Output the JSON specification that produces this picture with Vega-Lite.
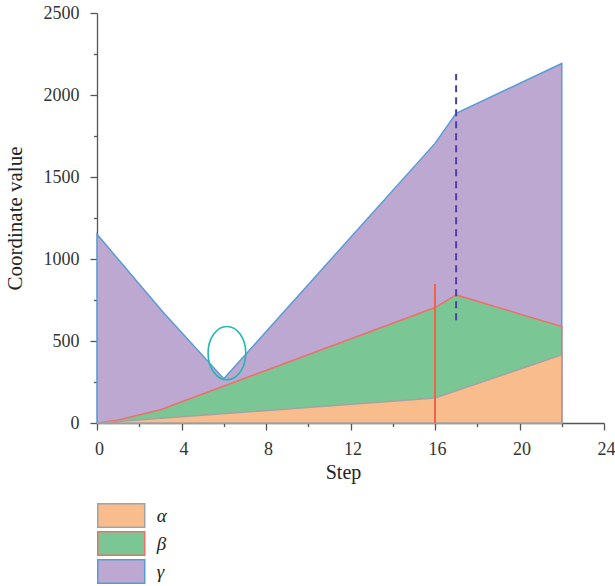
{
  "$schema": "https://vega.github.io/schema/vega-lite/v6.json",
  "width": 507,
  "height": 410,
  "autosize": {"type": "none"},
  "padding": {"left": 97, "top": 13, "right": 11, "bottom": 163},
  "config": {
    "view": {"stroke": null},
    "font": "Liberation Serif",
    "axis": {
      "grid": false,
      "domainColor": "#555555",
      "domainWidth": 1.3,
      "tickColor": "#555555",
      "tickWidth": 1.3,
      "labelFont": "Liberation Serif",
      "labelFontSize": 18,
      "labelColor": "#333333",
      "titleFont": "Liberation Serif",
      "titleFontWeight": "normal",
      "titleColor": "#222222"
    },
    "legend": {
      "orient": "none",
      "legendX": 11.75,
      "legendY": 490,
      "padding": 0,
      "symbolType": "M-2,-1H2V1H-2Z",
      "symbolSize": 552,
      "symbolStrokeWidth": 1.5,
      "symbolOpacity": 1,
      "labelOffset": 23,
      "labelFont": "Liberation Serif",
      "labelFontStyle": "italic",
      "labelFontSize": 19,
      "labelColor": "#222222",
      "rowPadding": -6
    }
  },
  "datasets": {
    "areas": [
      {"series": "γ", "step": 0, "value": 1151},
      {"series": "γ", "step": 3.1, "value": 680},
      {"series": "γ", "step": 6, "value": 270},
      {"series": "γ", "step": 16, "value": 1705},
      {"series": "γ", "step": 17, "value": 1888},
      {"series": "γ", "step": 22, "value": 2192},
      {"series": "β", "step": 0, "value": 0},
      {"series": "β", "step": 1, "value": 18},
      {"series": "β", "step": 3, "value": 81},
      {"series": "β", "step": 16, "value": 704},
      {"series": "β", "step": 17, "value": 781},
      {"series": "β", "step": 22, "value": 588},
      {"series": "α", "step": 0, "value": 0},
      {"series": "α", "step": 16, "value": 152},
      {"series": "α", "step": 22, "value": 416}
    ],
    "rules": [
      {"kind": "solid", "step": 16, "value": 0, "value2": 848},
      {"kind": "dashed", "step": 17, "value": 627, "value2": 2128}
    ],
    "marker": [
      {"step": 6.15, "value": 426}
    ]
  },
  "layer": [
    {
      "data": {"name": "areas"},
      "encoding": {
        "x": {
          "field": "step",
          "type": "quantitative",
          "scale": {"domain": [0, 24], "nice": false, "zero": false},
          "axis": {
            "title": "Step",
            "titleFontSize": 20,
            "titlePadding": 4,
            "titleX": 246,
            "values": [0, 2, 4, 6, 8, 10, 12, 14, 16, 18, 20, 22, 24],
            "labelExpr": "datum.value % 4 === 0 ? datum.label : ''",
            "tickSize": {"condition": {"test": "datum.value % 4 === 0", "value": 7}, "value": 3.5},
            "labelPadding": 10,
            "labelOffset": 2,
            "labelFlush": false,
            "labelOverlap": false
          }
        },
        "y": {
          "field": "value",
          "type": "quantitative",
          "stack": null,
          "scale": {"domain": [0, 2500], "nice": false},
          "axis": {
            "title": "Coordinate value",
            "titleFontSize": 21,
            "titlePadding": 18,
            "values": [0, 250, 500, 750, 1000, 1250, 1500, 1750, 2000, 2250, 2500],
            "format": "d",
            "labelExpr": "datum.value % 500 === 0 ? datum.label : ''",
            "tickSize": {"condition": {"test": "datum.value % 500 === 0", "value": 7}, "value": 3.5},
            "labelPadding": 11,
            "labelOverlap": false
          }
        },
        "fill": {
          "field": "series",
          "type": "nominal",
          "scale": {"domain": ["α", "β", "γ"], "range": ["#f9bc8d", "#7ac795", "#bda8d1"]},
          "legend": {"title": null}
        },
        "stroke": {
          "field": "series",
          "type": "nominal",
          "scale": {"domain": ["α", "β", "γ"], "range": ["#a3a3a3", "#ef7068", "#5b9bd5"]},
          "legend": {"title": null}
        }
      },
      "layer": [
        {
          "transform": [{"filter": "datum.series === 'γ'"}],
          "mark": {"type": "area", "strokeWidth": 1.5, "fillOpacity": 1, "opacity": 1}
        },
        {
          "transform": [{"filter": "datum.series === 'β'"}],
          "mark": {"type": "area", "strokeWidth": 1.5, "fillOpacity": 1, "opacity": 1}
        },
        {
          "transform": [{"filter": "datum.series === 'α'"}],
          "mark": {"type": "area", "strokeWidth": 1.5, "fillOpacity": 1, "opacity": 1}
        }
      ]
    },
    {
      "data": {"name": "rules"},
      "transform": [{"filter": "datum.kind === 'solid'"}],
      "mark": {"type": "rule", "color": "#ee6446", "strokeWidth": 2},
      "encoding": {
        "x": {"field": "step", "type": "quantitative"},
        "y": {"field": "value", "type": "quantitative"},
        "y2": {"field": "value2"}
      }
    },
    {
      "data": {"name": "rules"},
      "transform": [{"filter": "datum.kind === 'dashed'"}],
      "mark": {"type": "rule", "color": "#4e3fa6", "strokeWidth": 2, "strokeDash": [7, 5]},
      "encoding": {
        "x": {"field": "step", "type": "quantitative"},
        "y": {"field": "value", "type": "quantitative"},
        "y2": {"field": "value2"}
      }
    },
    {
      "data": {"name": "marker"},
      "mark": {
        "type": "point",
        "shape": "M0.707,0C0.707,0.552 0.39,1 0,1C-0.39,1 -0.707,0.552 -0.707,0C-0.707,-0.552 -0.39,-1 0,-1C0.39,-1 0.707,-0.552 0.707,0Z",
        "size": 2840,
        "filled": false,
        "stroke": "#22b8b0",
        "strokeWidth": 1.6,
        "opacity": 1
      },
      "encoding": {
        "x": {"field": "step", "type": "quantitative"},
        "y": {"field": "value", "type": "quantitative"}
      }
    }
  ]
}
